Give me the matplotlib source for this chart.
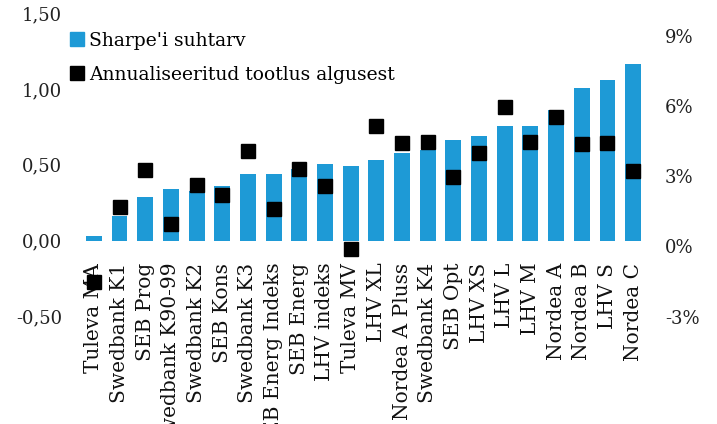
import matplotlib
matplotlib.use("Agg")
import matplotlib.pyplot as plt
from matplotlib.lines import Line2D
from matplotlib.ticker import FuncFormatter

categories = ["Tuleva MA", "Swedbank K1", "SEB Prog", "Swedbank K90-99", "Swedbank K2",
              "SEB Kons", "Swedbank K3", "SEB Energ Indeks", "SEB Energ", "LHV indeks",
              "Tuleva MV", "LHV XL", "Nordea A Pluss", "Swedbank K4", "SEB Opt", "LHV XS",
              "LHV L", "LHV M", "Nordea A", "Nordea B", "LHV S", "Nordea C"]
sharpe = [0.03, 0.16, 0.29, 0.34, 0.33, 0.36, 0.44, 0.44, 0.47, 0.505, 0.49,
          0.53, 0.58, 0.595, 0.66, 0.69, 0.755, 0.755, 0.86, 1.005, 1.06, 1.165]
returns_pct = [-1.52, 1.69, 3.26, 0.97, 2.63, 2.22, 4.09, 1.61, 3.33, 2.61, -0.10,
               5.16, 4.44, 4.47, 2.96, 3.99, 5.99, 4.49, 5.56, 4.39, 4.44, 3.24]
left_ticks = [-0.5, 0.0, 0.5, 1.0, 1.5]
right_ticks = [-3, 0, 3, 6, 9]

BLUE = "#1E9AD6"
FONT = "DejaVu Serif"
plt.rcParams["font.family"] = FONT

fig = plt.figure(figsize=(7.17, 4.24), dpi=100)
ax = fig.add_axes([81/717, 1-316.5/424, (646-81)/717, (316.5-13)/424])
ax2 = ax.twinx()

x = list(range(len(categories)))
ax.bar(x, sharpe, width=0.62, color=BLUE, zorder=2)
ax.set_ylim(-0.5, 1.5)
ax.set_xlim(-0.5, len(categories)-0.5)
ax.set_yticks(left_ticks)
ax.yaxis.set_major_formatter(FuncFormatter(lambda v, p: f"{v:.2f}".replace(".", ",")))
ax.set_xticks([])

ax2.plot(x, returns_pct, linestyle="none", marker="s", markersize=10.5,
         color="black", zorder=3)
ax2.set_ylim(-3, 10)
ax2.set_yticks(right_ticks)
ax2.yaxis.set_major_formatter(FuncFormatter(lambda v, p: f"{v:.0f}%"))

for a in (ax, ax2):
    for s in a.spines.values():
        s.set_visible(False)
    a.tick_params(length=0, labelsize=13, colors="#222222")
ax.tick_params(axis="y", pad=13.5)
ax2.tick_params(axis="y", pad=13.5)

for i, c in enumerate(categories):
    ax.text(i, -0.145, c, rotation=90, ha="center", va="top", fontsize=14.5,
            color="#111111", zorder=1, clip_on=False)

handles = [Line2D([], [], linestyle="none", marker="s", markersize=10, color=BLUE),
           Line2D([], [], linestyle="none", marker="s", markersize=10, color="black")]
fig.legend(handles, ["Sharpe'i suhtarv", "Annualiseeritud tootlus algusest"],
           loc="upper left", bbox_to_anchor=(69/717, 1-32/424), frameon=False,
           fontsize=13.5, handlelength=0.8, handletextpad=0.25, labelspacing=0.85,
           borderaxespad=0, borderpad=0)

fig.savefig("out.png", dpi=100)
